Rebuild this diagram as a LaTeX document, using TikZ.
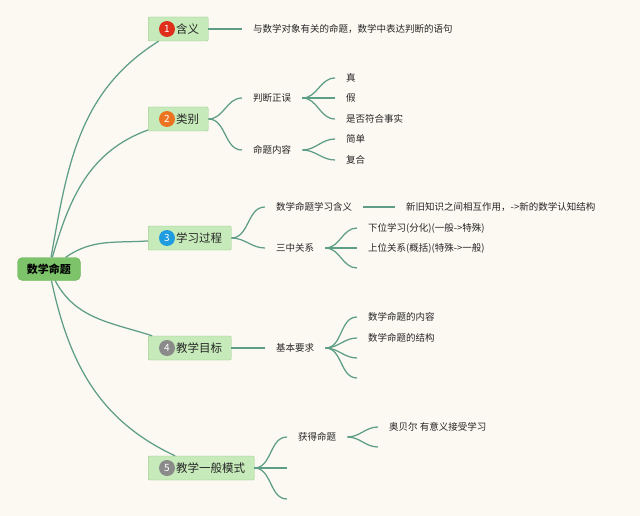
\documentclass[tikz,border=0pt]{standalone}
\usepackage{fontspec}
\setmainfont{Noto Sans CJK SC}
\usepackage{xcolor}
\definecolor{paper}{HTML}{FCF9F3}
\definecolor{linkgreen}{HTML}{5E9E86}
\definecolor{topicfill}{HTML}{C6EAB9}
\definecolor{topicedge}{HTML}{8FC983}
\definecolor{rootfill}{HTML}{7CC36A}
\definecolor{rootedge}{HTML}{6AB25A}
\definecolor{redbadge}{HTML}{DF2F1C}
\definecolor{orangebadge}{HTML}{EC7420}
\definecolor{bluebadge}{HTML}{1F9BE0}
\definecolor{graybadge}{HTML}{8A8A8A}

\begin{document}
\begin{tikzpicture}[
  x=1pt, y=-1pt,
  every node/.style={font=\fontsize{9.5}{11}\selectfont, text=black!85},
  link/.style={draw=linkgreen, line width=1.25pt},
  branch/.style={link, out=0, in=180},
  root/.style={draw=rootedge, fill=rootfill, rounded corners=5pt, minimum width=63pt,
    minimum height=23pt, text=black, font=\fontsize{11}{13}\selectfont\bfseries},
  topic/.style={draw=topicedge, fill=topicfill, rounded corners=1pt, minimum height=24pt,
    inner xsep=9pt, anchor=west, font=\fontsize{11.5}{13}\selectfont},
  badge/.style={circle, fill=#1, text=white, minimum size=16pt, inner sep=0pt,
    font=\fontsize{10}{11}\selectfont},
  leaf/.style={anchor=west, inner xsep=11pt, inner ysep=2pt}
]
  \fill[paper] (0,0) rectangle (640,516);
  \useasboundingbox (0,0) rectangle (640,516);

  \node[root] (root) at (49,269) {数学命题};

  % main topics
  \node[topic] (hanyi) at (148,29) {\hspace{19pt}含义};
  \node[badge=redbadge] (hanyinum) at ([xshift=19pt]hanyi.west) {1};
  \node[topic] (leibie) at (148,119) {\hspace{19pt}类别};
  \node[badge=orangebadge] (leibienum) at ([xshift=19pt]leibie.west) {2};
  \node[topic] (guocheng) at (148,238) {\hspace{19pt}学习过程};
  \node[badge=bluebadge] (guochengnum) at ([xshift=19pt]guocheng.west) {3};
  \node[topic] (mubiao) at (148,348) {\hspace{19pt}教学目标};
  \node[badge=graybadge] (mubiaonum) at ([xshift=19pt]mubiao.west) {4};
  \node[topic] (moshi) at (148,468) {\hspace{19pt}教学一般模式};
  \node[badge=graybadge] (moshinum) at ([xshift=19pt]moshi.west) {5};

  \draw[link] (root) to[out=80, in=212] (hanyi);
  \draw[link] (root) to[out=74, in=200] (leibie);
  \draw[link] (root) to[out=35, in=184] (guocheng);
  \draw[link] (root) to[out=-62, in=162] (mubiao);
  \draw[link] (root) to[out=-78, in=155] (moshi);

  % 1
  \node[leaf] (dingyi) at (242,29) {与数学对象有关的命题，数学中表达判断的语句};
  \draw[link] (hanyi) -- (dingyi);

  % 2
  \node[leaf] (panduan) at (242,98) {判断正误};
  \node[leaf] (neirong) at (242,150) {命题内容};
  \node[leaf] (zhen) at (335,78) {真};
  \node[leaf] (jia) at (335,98) {假};
  \node[leaf] (shifou) at (335,119) {是否符合事实};
  \node[leaf] (jiandan) at (335,139) {简单};
  \node[leaf] (fuhe) at (335,160) {复合};
  \draw[branch] (leibie) to (panduan);
  \draw[branch] (leibie) to (neirong);
  \draw[branch] (panduan) to (zhen);
  \draw[branch] (panduan) to (jia);
  \draw[branch] (panduan) to (shifou);
  \draw[branch] (neirong) to (jiandan);
  \draw[branch] (neirong) to (fuhe);

  % 3
  \node[leaf] (xxhanyi) at (265,207) {数学命题学习含义};
  \node[leaf] (xinjiu) at (395,207) {新旧知识之间相互作用，->新的数学认知结构};
  \node[leaf] (sanzhong) at (265,248) {三中关系};
  \node[leaf] (xiawei) at (357,228) {下位学习(分化)(一般->特殊)};
  \node[leaf] (shangwei) at (357,248) {上位关系(概括)(特殊->一般)};
  \coordinate (sanzhongc) at (357,268);
  \draw[branch] (guocheng) to (xxhanyi);
  \draw[branch] (guocheng) to (sanzhong);
  \draw[link] (xxhanyi) -- (xinjiu);
  \draw[branch] (sanzhong) to (xiawei);
  \draw[branch] (sanzhong) to (shangwei);
  \draw[branch] (sanzhong) to (sanzhongc);

  % 4
  \node[leaf] (yaoqiu) at (265,348) {基本要求};
  \node[leaf] (mtneirong) at (357,317) {数学命题的内容};
  \node[leaf] (mtjiegou) at (357,338) {数学命题的结构};
  \coordinate (yaoqiuc) at (357,358);
  \coordinate (yaoqiud) at (357,378);
  \draw[link] (mubiao) -- (yaoqiu);
  \draw[branch] (yaoqiu) to (mtneirong);
  \draw[branch] (yaoqiu) to (mtjiegou);
  \draw[branch] (yaoqiu) to (yaoqiuc);
  \draw[branch] (yaoqiu) to (yaoqiud);

  % 5
  \node[leaf] (huode) at (287,437) {获得命题};
  \coordinate (moshib) at (287,468);
  \coordinate (moshic) at (287,499);
  \node[leaf] (aobeier) at (378,427) {奥贝尔 有意义接受学习};
  \coordinate (huodeb) at (378,447);
  \draw[branch] (moshi) to (huode);
  \draw[branch] (moshi) to (moshib);
  \draw[branch] (moshi) to (moshic);
  \draw[branch] (huode) to (aobeier);
  \draw[branch] (huode) to (huodeb);
\end{tikzpicture}
\end{document}
